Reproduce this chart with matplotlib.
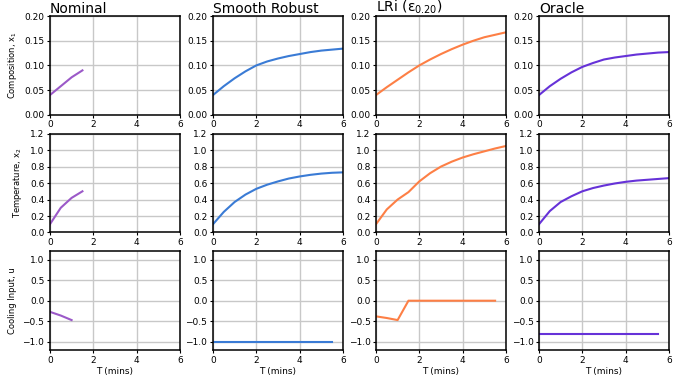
import matplotlib
matplotlib.use('Agg')
from matplotlib import pyplot as plt

titles = ['Nominal', 'Smooth Robust', 'LRi (ε$_{0.20}$)', 'Oracle']
colors = ['#9b59c8', '#3a7bd5', '#fd7f45', '#6632d8']

# state trajectories (t in mins)
t_nom = [0, 0.5, 1.0, 1.5]
x1_nom = [0.040, 0.058, 0.076, 0.090]
x2_nom = [0.10, 0.30, 0.42, 0.50]
tu_nom = [0, 0.5, 1.0]
u_nom = [-0.27, -0.36, -0.47]

t_full = [0, 0.5, 1.0, 1.5, 2.0, 2.5, 3.0, 3.5, 4.0, 4.5, 5.0, 5.5, 6.0]
tu_full = [0, 0.5, 1.0, 1.5, 2.0, 2.5, 3.0, 3.5, 4.0, 4.5, 5.0, 5.5]

x1_sr = [0.040, 0.058, 0.074, 0.088, 0.100, 0.108, 0.114, 0.119, 0.123, 0.127, 0.130, 0.132, 0.134]
x2_sr = [0.10, 0.25, 0.37, 0.46, 0.53, 0.58, 0.62, 0.655, 0.68, 0.70, 0.715, 0.725, 0.73]
u_sr = [-1.0] * 12

x1_lri = [0.040, 0.056, 0.071, 0.086, 0.100, 0.112, 0.123, 0.133, 0.142, 0.150, 0.157, 0.162, 0.167]
x2_lri = [0.10, 0.28, 0.40, 0.49, 0.62, 0.72, 0.80, 0.86, 0.91, 0.95, 0.985, 1.02, 1.05]
u_lri = [-0.38, -0.42, -0.47, 0.0, 0.0, 0.0, 0.0, 0.0, 0.0, 0.0, 0.0, 0.0]

x1_or = [0.040, 0.058, 0.073, 0.086, 0.097, 0.105, 0.112, 0.116, 0.119, 0.122, 0.124, 0.126, 0.127]
x2_or = [0.10, 0.26, 0.37, 0.44, 0.50, 0.54, 0.57, 0.595, 0.615, 0.63, 0.64, 0.65, 0.66]
u_or = [-0.8] * 12

runs = [
	(t_nom, x1_nom, x2_nom, tu_nom, u_nom),
	(t_full, x1_sr, x2_sr, tu_full, u_sr),
	(t_full, x1_lri, x2_lri, tu_full, u_lri),
	(t_full, x1_or, x2_or, tu_full, u_or),
]

ylabels = ['Composition, x$_1$', 'Temperature, x$_2$', 'Cooling Input, u']
ylims = [(0, 0.2), (0, 1.2), (-1.2, 1.2)]
yticks = [[0, 0.05, 0.1, 0.15, 0.2], [0, 0.2, 0.4, 0.6, 0.8, 1.0, 1.2], [-1.0, -0.5, 0, 0.5, 1.0]]

fig, axes = plt.subplots(3, 4, figsize=(6.84, 3.81), dpi=100)
plt.subplots_adjust(left=0.073, right=0.978, top=0.958, bottom=0.081, wspace=0.254, hspace=0.19)

for c in range(4):
	t, x1, x2, tu, u = runs[c]
	data = [(t, x1), (t, x2), (tu, u)]
	for r in range(3):
		ax = axes[r][c]
		ax.plot(data[r][0], data[r][1], color=colors[c], lw=1.5)
		ax.set_xlim(0, 6)
		ax.set_xticks([0, 2, 4, 6])
		ax.set_ylim(*ylims[r])
		ax.set_yticks(yticks[r])
		ax.grid(True, color='#c8c8c8', lw=1)
		ax.tick_params(labelsize=6.5, length=2.5, pad=1.5)
		for s in ax.spines.values():
			s.set_linewidth(1.1)
		if c == 0:
			ax.set_ylabel(ylabels[r], fontsize=6)
		if r == 0:
			ax.set_title(titles[c], fontsize=10, loc='left', pad=0)
		if r == 2:
			ax.set_xlabel('T (mins)', fontsize=6.5, labelpad=2)
		if r < 2:
			ax.yaxis.set_major_formatter(plt.FormatStrFormatter('%.2f' if r == 0 else '%.1f'))

plt.savefig('out.png', dpi=100)
plt.close()
